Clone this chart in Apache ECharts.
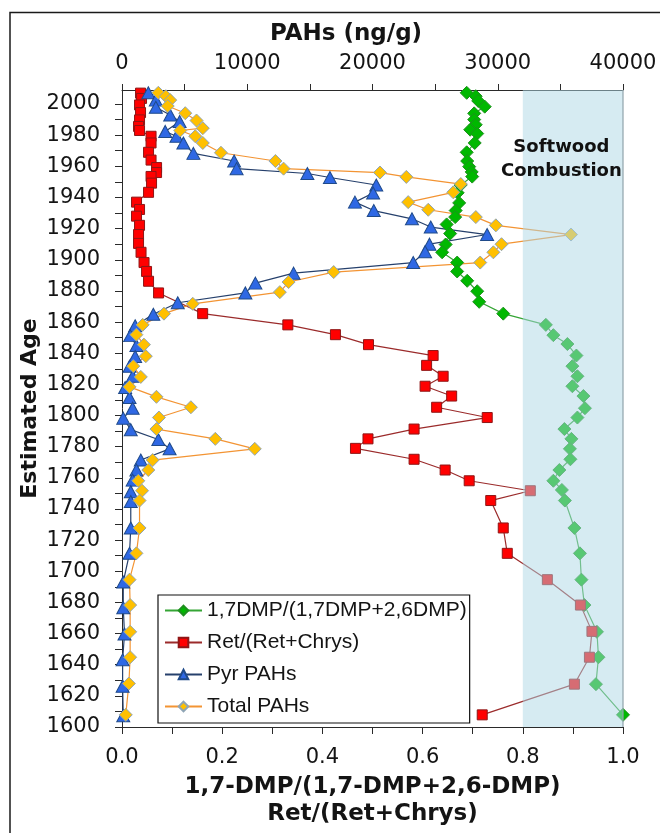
<!DOCTYPE html>
<html>
<head>
<meta charset="utf-8">
<script src="https://cdn.jsdelivr.net/npm/echarts@6/dist/echarts.min.js"></script>
<style>
  html, body { margin: 0; padding: 0; background: #fff; }
  #chart { width: 660px; height: 833px; }
</style>
</head>
<body>
<div id="chart"></div>
<script>
// ---------- data ----------
const seriesNames = ['1,7DMP/(1,7DMP+2,6DMP)', 'Ret/(Ret+Chrys)', 'Pyr PAHs', 'Total PAHs'];

// 1,7DMP/(1,7DMP+2,6DMP) ratio (bottom axis)
const dmpAge = [2007.2, 2005, 2002, 1998.3, 1994, 1990, 1986.7, 1983.5, 1981, 1975, 1969, 1963.4, 1959.8, 1956.4, 1953.4,
  1948, 1943, 1936.5, 1931.6, 1927.4, 1922.7, 1916.8, 1909.8, 1904.8, 1898.2, 1892.5, 1886.5, 1879.8, 1873,
  1865.4, 1858.2, 1851.6, 1845.9, 1838.5, 1831.7, 1825.2, 1818.8, 1812.5, 1804.7, 1798.7, 1791.3, 1785, 1778.6,
  1771.9, 1765, 1758.1, 1752.2, 1745.4, 1727.8, 1711.5, 1694.6, 1678.3, 1661.1, 1644.8, 1627.5, 1607.8];
const dmpRatio = [0.688, 0.706, 0.711, 0.724, 0.703, 0.703, 0.706, 0.695, 0.709, 0.704, 0.688, 0.689, 0.693, 0.698, 0.699,
  0.676, 0.670, 0.673, 0.666, 0.665, 0.648, 0.655, 0.646, 0.639, 0.669, 0.669, 0.689, 0.709, 0.713,
  0.761, 0.846, 0.861, 0.889, 0.907, 0.899, 0.909, 0.899, 0.921, 0.924, 0.909, 0.883, 0.897, 0.894,
  0.895, 0.873, 0.861, 0.878, 0.884, 0.903, 0.914, 0.917, 0.923, 0.948, 0.951, 0.946, 1.0];

// Ret/(Ret+Chrys) ratio (bottom axis)
const retAge = [2007, 2003.6, 1999.4, 1994.5, 1989.8, 1985.6, 1983, 1979.3, 1975, 1969, 1964, 1959.2, 1956, 1953.5,
  1949.2, 1943.3, 1937, 1932.3, 1928, 1922.1, 1916.2, 1910.5, 1904.8, 1898.2, 1892.5, 1886.2, 1878.7,
  1865.4, 1858.2, 1851.9, 1845.5, 1838.5, 1832.2, 1825.2, 1818.8, 1812.5, 1805.3, 1798.7, 1791.3, 1785, 1778.9,
  1771.9, 1765, 1758.1, 1751.7, 1745.4, 1727.8, 1711.5, 1694.6, 1678.3, 1661.4, 1644.8, 1627.5, 1607.8];
const retRatio = [0.037, 0.039, 0.035, 0.037, 0.035, 0.033, 0.035, 0.058, 0.058, 0.053, 0.058, 0.069, 0.069, 0.058,
  0.059, 0.053, 0.029, 0.035, 0.029, 0.035, 0.033, 0.033, 0.038, 0.044, 0.049, 0.053, 0.073,
  0.161, 0.331, 0.426, 0.492, 0.621, 0.608, 0.641, 0.605, 0.658, 0.628, 0.729, 0.583, 0.491, 0.466,
  0.583, 0.645, 0.693, 0.815, 0.736, 0.761, 0.769, 0.849, 0.915, 0.938, 0.933, 0.903, 0.719];

// Pyr PAHs, ng/g (top axis)
const pyrAge = [2007.2, 2002.5, 1997.9, 1993, 1988.8, 1982.4, 1979.3, 1975, 1968.3, 1963.4, 1958.5, 1955.4, 1952.8,
  1948, 1942.9, 1937, 1931.6, 1926.3, 1921, 1916.2, 1910, 1905.2, 1898.2, 1891.4, 1885, 1878.7, 1872.4,
  1865, 1857.6, 1851.3, 1844.9, 1837.9, 1831.6, 1825.2, 1818, 1811.6, 1804.7, 1798.3, 1790.9, 1784.6, 1778.6,
  1771.4, 1765, 1758.5, 1751.1, 1744.8, 1727.8, 1711.5, 1693.1, 1676.6, 1659.7, 1643.2, 1626.2, 1607.2];
const pyrPAH = [2100, 2700, 2700, 3850, 4600, 3450, 4350, 4900, 5700, 8950, 9150, 14800, 16600,
  20300, 20050, 18600, 20100, 23150, 24650, 29150, 24550, 24200, 23250, 13700, 10650, 9850, 4450,
  2500, 1050, 650, 1150, 1050, 600, 850, 250, 600, 850, 100, 700, 2900, 3800,
  1500, 1150, 850, 700, 700, 700, 600, 100, 100, 200, 50, 50, 100];

// Total PAHs, ng/g (top axis)
const totAge = [2007.2, 2005, 2002.5, 1998.7, 1994.1, 1989.4, 1984.5, 1983, 1979.3, 1975, 1968.7, 1963.4, 1958.5,
  1956, 1953.2, 1948.6, 1943.3, 1937, 1932.1, 1927.4, 1922.1, 1916.2, 1910, 1904.8, 1898.2, 1892.1, 1885.7,
  1879.2, 1871.7, 1865.4, 1858.2, 1851.9, 1845.5, 1838.1, 1831.7, 1824.8, 1818.4, 1812, 1805.3, 1798.7, 1791.3,
  1785, 1778.6, 1771.4, 1765, 1758.1, 1751.7, 1745.4, 1727.8, 1711.5, 1694.6, 1678.3, 1661.1, 1644.8, 1627.9, 1607.8];
const totPAH = [2900, 3500, 3850, 3650, 5050, 5950, 6450, 4650, 5850, 6450, 7900, 12250, 12900,
  20600, 22700, 27050, 26450, 22850, 24450, 28250, 29850, 35850, 30300, 29650, 28600, 16900, 13300,
  12600, 5650, 3350, 1650, 1150, 1750, 1900, 900, 1500, 600, 2750, 5500, 2950, 2750,
  7450, 10600, 2450, 2100, 1300, 1600, 1400, 1400, 1150, 600, 650, 650, 650, 550, 300];

// axes / ticks
const ageMin = 1600, ageMax = 2009;
const ageTickLabels = [1600, 1620, 1640, 1660, 1680, 1700, 1720, 1740, 1760, 1780, 1800, 1820, 1840, 1860, 1880, 1900, 1920, 1940, 1960, 1980, 2000];
const ageTicks = [1600, 1610, 1620, 1630, 1640, 1650, 1660, 1670, 1680, 1690, 1700, 1710, 1720, 1730, 1740, 1750, 1760, 1770, 1780, 1790,
  1800, 1810, 1820, 1830, 1840, 1850, 1860, 1870, 1880, 1890, 1900, 1910, 1920, 1930, 1940, 1950, 1960, 1970, 1980, 1990, 2000];
const ratioTickLabels = [0, 0.2, 0.4, 0.6, 0.8, 1.0];
const pahTickLabels = [0, 10000, 20000, 30000, 40000];
const softwoodRange = [0.8, 1.0];
const softwoodLabel = 'Softwood\nCombustion';

// ---------- chart ----------
const pairs = (xs, ys) => xs.map((x, i) => [x, ys[i]]);
const chart = echarts.init(document.getElementById('chart'), null, { renderer: 'canvas' });

const tickFont = { fontFamily: 'DejaVu Sans', fontSize: 21, color: '#141414' };
const axisCol = '#2a2a2a';

function lineSeries(name, data, xIdx, symbol, size, fill, border, lineCol) {
  return {
    name, type: 'line', xAxisIndex: xIdx, yAxisIndex: 0, data,
    symbol, symbolSize: size, showSymbol: true,
    lineStyle: { color: lineCol, width: 1.2 },
    itemStyle: { color: fill, borderColor: border, borderWidth: 1 },
    emphasis: { disabled: true }, silent: true
  };
}

const option = {
  animation: false,
  backgroundColor: '#ffffff',
  grid: { left: 122, right: 37, top: 90, bottom: 99, containLabel: false },
  graphic: [
    { type: 'rect', z: 100, shape: { x: 10, y: 12.5, width: 720, height: 900 },
      style: { fill: 'none', stroke: '#1a1a1a', lineWidth: 1.5 } },
    { type: 'text', z: 100, x: 346, y: 34,
      style: { text: 'PAHs (ng/g)', fontFamily: 'DejaVu Sans', fontWeight: 'bold', fontSize: 23,
        fill: '#141414', align: 'center', verticalAlign: 'middle' } }
  ],
  legend: {
    orient: 'vertical', left: 158, top: 595,
    itemWidth: 37, itemHeight: 12, itemGap: 11,
    padding: [5, 3, 6, 6],
    borderColor: '#111', borderWidth: 1.2, backgroundColor: '#fff',
    textStyle: { fontFamily: 'Liberation Sans', fontSize: 21, color: '#141414' },
    data: seriesNames, selectedMode: false
  },
  xAxis: [
    {
      type: 'value', position: 'bottom', min: 0, max: 1, interval: 0.1,
      axisLine: { show: true, onZero: false, lineStyle: { color: axisCol, width: 1 } },
      axisTick: { show: true, length: 7, lineStyle: { color: axisCol } },
      axisLabel: { ...tickFont, margin: 20, customValues: ratioTickLabels, formatter: v => v.toFixed(1) },
      splitLine: { show: false },
      name: '1,7-DMP/(1,7-DMP+2,6-DMP)\nRet/(Ret+Chrys)',
      nameLocation: 'middle', nameGap: 47, nameMoveOverlap: false,
      nameTextStyle: { fontFamily: 'DejaVu Sans', fontWeight: 'bold', fontSize: 23, lineHeight: 27, color: '#141414' }
    },
    {
      type: 'value', position: 'top', min: 0, max: 40000, interval: 5000,
      axisLine: { show: true, onZero: false, lineStyle: { color: axisCol, width: 1 } },
      axisTick: { show: true, length: 6, lineStyle: { color: axisCol } },
      axisLabel: { ...tickFont, margin: 16, customValues: pahTickLabels, formatter: v => String(v) },
      splitLine: { show: false }
    }
  ],
  yAxis: {
    type: 'value', min: ageMin, max: ageMax, interval: 10,
    axisLine: { show: true, onZero: false, lineStyle: { color: axisCol, width: 1 } },
    axisTick: { show: true, length: 7, customValues: ageTicks, lineStyle: { color: axisCol } },
    axisLabel: { ...tickFont, margin: 22, customValues: ageTickLabels, formatter: v => String(v) },
    splitLine: { show: false },
    name: 'Estimated Age', nameLocation: 'middle', nameGap: 81, nameRotate: 90, nameMoveOverlap: false,
    nameTextStyle: { fontFamily: 'DejaVu Sans', fontWeight: 'bold', fontSize: 22, color: '#141414' }
  },
  series: [
    lineSeries(seriesNames[0], pairs(dmpRatio, dmpAge), 0, 'diamond', 13, '#00B800', '#1E8F1E', '#35A535'),
    lineSeries(seriesNames[1], pairs(retRatio, retAge), 0, 'rect', 10, '#FF0000', '#8E1616', '#9B2B2B'),
    lineSeries(seriesNames[2], pairs(pyrPAH, pyrAge), 1, 'triangle', [13, 12], '#2F68E4', '#1F4A8A', '#26406C'),
    lineSeries(seriesNames[3], pairs(totPAH, totAge), 1, 'diamond', 13, '#FFC000', '#8FA5B5', '#F39433'),
    {
      type: 'custom', name: 'softwood', xAxisIndex: 0, yAxisIndex: 0, z: 10, silent: true,
      data: [[softwoodRange[0], ageMin]],
      renderItem: function (params, api) {
        const p0 = api.coord([softwoodRange[0], ageMax]);
        const p1 = api.coord([softwoodRange[1], ageMin]);
        const t = api.coord([0.877, 1964.5]);
        return {
          type: 'group',
          children: [
            { type: 'rect', shape: { x: p0[0], y: p0[1], width: p1[0] - p0[0], height: p1[1] - p0[1] },
              style: { fill: 'rgba(173,216,230,0.5)' } },
            { type: 'line', shape: { x1: p1[0], y1: p0[1], x2: p1[0], y2: p1[1] },
              style: { stroke: '#8fa3ab', lineWidth: 1.2 } },
            { type: 'text', x: t[0], y: t[1],
              style: { text: softwoodLabel, fontFamily: 'DejaVu Sans', fontWeight: 'bold', fontSize: 18,
                lineHeight: 24, fill: '#111', align: 'center', verticalAlign: 'middle' } }
          ]
        };
      }
    }
  ]
};
chart.setOption(option);
</script>
</body>
</html>
